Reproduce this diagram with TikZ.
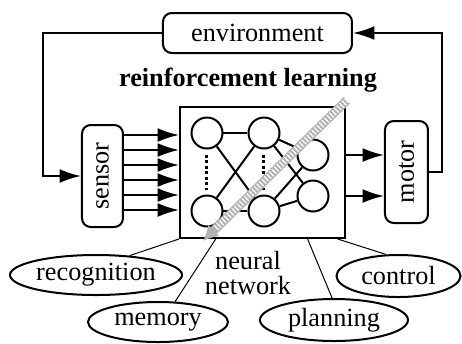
\documentclass[tikz,border=0pt]{standalone}
\usepackage{fontspec}
\setmainfont{Liberation Serif}
\usetikzlibrary{arrows.meta,calc,shapes.geometric,positioning}
\tikzset{box/.style={draw, line width=0.8pt, rounded corners=3.5pt, inner sep=0pt},
	neuron/.style={draw, circle, line width=0.8pt, minimum size=12.4pt, inner sep=0pt},
	link/.style={line width=0.8pt},
	task/.style={draw, ellipse, line width=0.8pt, inner sep=0pt},
	bigarrow/.style={line width=0.8pt, -{Latex[length=8.5pt,width=5.5pt]}}}

\begin{document}
\begin{tikzpicture}[x=0.4pt, y=-0.4pt, font=\fontsize{10.5}{12}\selectfont]
	\useasboundingbox (0,0) rectangle (462,343);

	% boxes
	\node[box, minimum width=75.6pt, minimum height=16pt] (env) at (257.5,33) {environment};
	\node[font=\fontsize{10.5}{12}\selectfont\bfseries] (title) at (248,80) {reinforcement learning};
	\node[draw, line width=0.8pt, minimum width=66pt, minimum height=52.4pt, inner sep=0pt] (nn) at (262.5,172.5) {};
	\node[box, rotate=90, minimum width=40.8pt, minimum height=16.4pt] (sensor) at (102.5,176) {sensor};
	\node[box, rotate=90, minimum width=40.8pt, minimum height=17.2pt] (motor) at (406.5,172) {motor};

	% neurons
	\node[neuron] (n11) at (207,133) {};
	\node[neuron] (n12) at (207,211) {};
	\node[neuron] (n21) at (264,133) {};
	\node[neuron] (n22) at (264,211) {};
	\node[neuron] (n31) at (313,155) {};
	\node[neuron] (n32) at (313,196) {};

	\foreach \a/\b in {n11/n21, n11/n22, n12/n21, n12/n22, n21/n31, n21/n32, n22/n31, n22/n32}
		\draw[link] (\a) -- (\b);
	\draw[line width=1.2pt, densely dotted, shorten <=2pt, shorten >=2pt] (n11) -- (n12);
	\draw[line width=1.2pt, densely dotted, shorten <=2pt, shorten >=2pt] (n21) -- (n22);

	% sensor and motor arrows
	\foreach \y in {135,150,...,210}
		\draw[bigarrow] (sensor.south |- 0,\y) -- (nn.west |- 0,\y);
	\draw[bigarrow] (nn.east |- n31) -- (motor.north |- n31);
	\draw[bigarrow] (nn.east |- n32) -- (motor.north |- n32);

	% loop
	\coordinate (lc) at (43,176);
	\coordinate (rc) at (442,172);
	\draw[bigarrow] (env.west) -| (lc) -- (sensor.north);
	\draw[bigarrow] (motor.south) -- (rc) |- (env.east);

	% learning arrow
	\coordinate (hs) at (347,100);
	\coordinate (he) at (203,241);
	\draw[line width=3.6pt, gray!60, -{Latex[length=6pt,width=6.5pt]}] (hs) -- (he);
	\draw[line width=2.6pt, white, dash pattern=on 0.5pt off 0.9pt, shorten >=7pt] (hs) -- (he);

	% functions
	\node[align=center, font=\fontsize{10.5}{10}\selectfont] (nnlabel) at (248,273) {neural\\network};
	\node[task, minimum width=68.8pt, minimum height=16pt] (rec) at (96,275) {recognition};
	\node[task, minimum width=56pt, minimum height=16pt] (mem) at (158,322) {memory};
	\node[task, minimum width=59.2pt, minimum height=16.8pt] (plan) at (334,320) {planning};
	\node[task, minimum width=49.6pt, minimum height=16.8pt] (ctl) at (398.5,276) {control};

	\draw[thin] (nn.south west) -- (rec.30);
	\draw[thin] ($(nn.south west)!.22!(nn.south east)$) -- (mem.50);
	\draw[thin] ($(nn.south west)!.77!(nn.south east)$) -- (plan.95);
	\draw[thin] ($(nn.south west)!.95!(nn.south east)$) -- (ctl.120);

\end{tikzpicture}
\end{document}
